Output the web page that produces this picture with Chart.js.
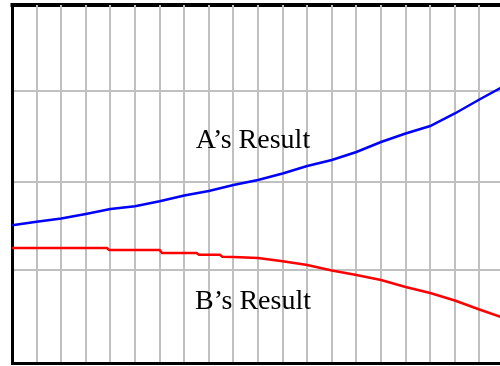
<!DOCTYPE html>
<html>
<head>
<meta charset="utf-8">
<script src="https://cdn.jsdelivr.net/npm/chart.js@4.4.0/dist/chart.umd.min.js"></script>
<style>
  html, body { margin: 0; padding: 0; overflow: hidden; background: #fff; }
  #wrap { position: relative; width: 510px; height: 366px; }
  .lbl { position: absolute; font-family: "Liberation Serif", serif; font-size: 28px; color: #000; white-space: nowrap; transform: translateX(-50%); }
</style>
</head>
<body>
<div id="wrap">
  <canvas id="chart"></canvas>
  <div class="lbl" style="left:253px; top:123px;">A’s Result</div>
  <div class="lbl" style="left:253px; top:284px;">B’s Result</div>
</div>
<script>
// dados (x em divisoes da grade)
const xA = [0, 1, 2, 3, 4, 5, 6, 7, 8, 9, 10, 11, 12, 13, 14, 15, 16, 17, 18, 19, 20];
const yA = [1.539, 1.579, 1.615, 1.665, 1.721, 1.751, 1.807, 1.872, 1.922, 1.989, 2.045,
            2.117, 2.201, 2.268, 2.358, 2.469, 2.564, 2.648, 2.788, 2.944, 3.095];

const xB = [0, 3.86, 3.95, 6.0, 6.1, 7.5, 7.6, 8.45, 8.55, 9, 10, 11, 12, 13, 14, 15, 16, 17, 18, 19, 20];
const yB = [1.285, 1.285, 1.263, 1.263, 1.229, 1.229, 1.210, 1.210, 1.188, 1.184, 1.173,
            1.136, 1.095, 1.034, 0.983, 0.927, 0.849, 0.782, 0.698, 0.598, 0.503];

// linhas horizontais da grade (nao sao exatamente iguais na figura)
const yGrid = [0, 1.036, 2.026, 3.042];

//borda de cima, desenhada antes da grade
const topBorder = {
  id: 'topBorder',
  beforeDraw(chart) {
    const { ctx, chartArea } = chart;
    ctx.save();
    ctx.strokeStyle = '#000';
    ctx.lineWidth = 4;
    ctx.beginPath();
    ctx.moveTo(chartArea.left - 1.5, chartArea.top);
    ctx.lineTo(chartArea.right, chartArea.top);
    ctx.stroke();
    ctx.restore();
  }
};

const ctx = document.getElementById('chart').getContext('2d');
const chart = new Chart(ctx, {
  type: 'line',
  data: {
    datasets: [{
      label: "A's Result",
      data: xA.map((x, i) => ({ x: x, y: yA[i] })),
      borderColor: '#0000ff',
      borderWidth: 2.5,
      pointRadius: 0,
      tension: 0
    }, {
      label: "B's Result",
      data: xB.map((x, i) => ({ x: x, y: yB[i] })),
      borderColor: '#ff0000',
      borderWidth: 2.5,
      pointRadius: 0,
      tension: 0
    }]
  },
  options: {
    responsive: true,
    maintainAspectRatio: false,
    animation: false,
    layout: { padding: { left: 12, top: 5, right: 6, bottom: 3 } },
    scales: {
      x: {
        type: 'linear',
        min: 0,
        max: 20,
        ticks: { display: false, stepSize: 1 },
        grid: { color: '#c0c0c0', lineWidth: 2, drawTicks: false },
        border: { display: true, color: '#000', width: 3 }
      },
      y: {
        type: 'linear',
        min: 0,
        max: 4,
        afterBuildTicks: (scale) => { scale.ticks = yGrid.map(v => ({ value: v })); },
        ticks: { display: false },
        grid: { color: '#c0c0c0', lineWidth: 2, drawTicks: false },
        border: { display: true, color: '#000', width: 3 }
      }
    },
    plugins: {
      legend: { display: false },
      tooltip: { enabled: false }
    }
  },
  plugins: [topBorder]
});
</script>
</body>
</html>
